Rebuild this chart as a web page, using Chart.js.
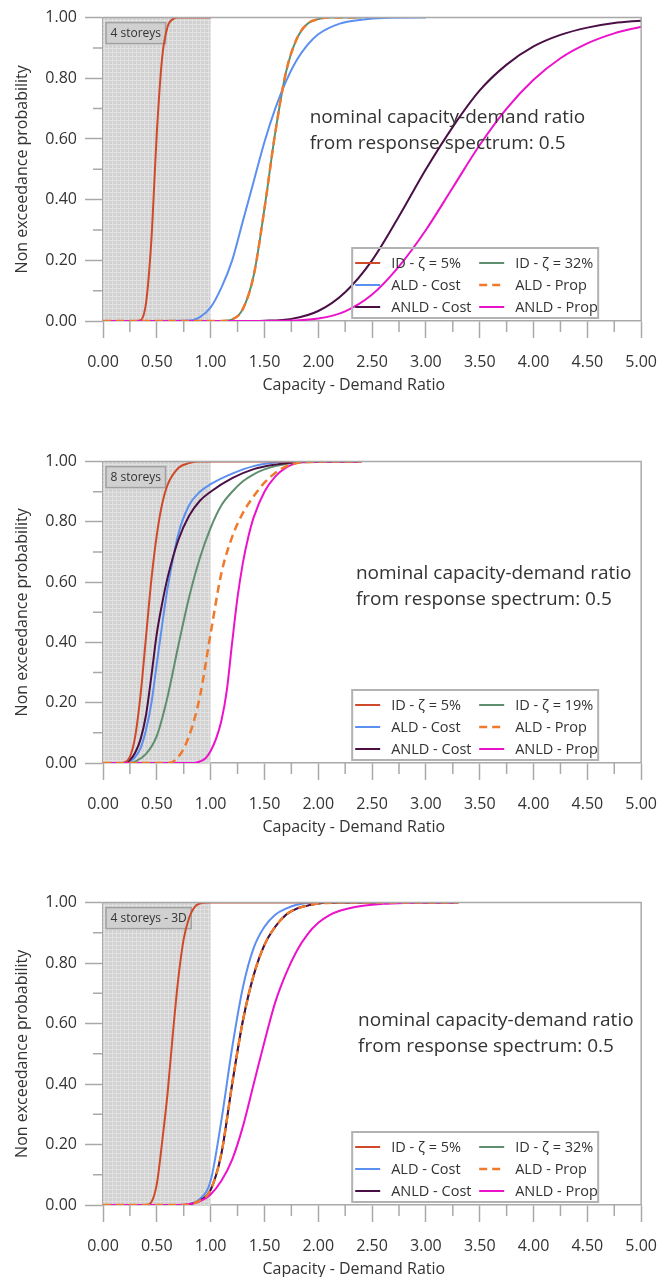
<!DOCTYPE html>
<html>
<head>
<meta charset="utf-8">
<script src="https://cdn.jsdelivr.net/npm/chart.js@4.4.1/dist/chart.umd.min.js"></script>
<style>
  body { margin: 0; background: #fff; width: 672px; height: 1277px; position: relative; overflow: hidden; }
  .panel { position: absolute; left: 0; width: 672px; }
</style>
</head>
<body>
<div class="panel" style="top:0;height:400px"><canvas id="c4s"></canvas></div>
<div class="panel" style="top:444px;height:400px"><canvas id="c8s"></canvas></div>
<div class="panel" style="top:885px;height:392px"><canvas id="c3d"></canvas></div>
<script>
// ---- 4 storeys ----
const x4_id5 = [0, 0.30, 0.35, 0.40, 0.45, 0.48, 0.50, 0.55, 0.60, 0.65, 0.70, 1.00];
const y4_id5 = [0, 0, 0.003, 0.06, 0.27, 0.48, 0.62, 0.87, 0.97, 0.995, 1, 1];
const x4_id32 = [0, 1.10, 1.20, 1.30, 1.40, 1.50, 1.60, 1.70, 1.80, 1.90, 2.00, 2.10, 2.40];
const y4_id32 = [0, 0, 0.005, 0.04, 0.15, 0.37, 0.62, 0.82, 0.93, 0.98, 0.995, 1, 1];
const x4_aldCost = [0, 0.80, 0.90, 1.00, 1.10, 1.20, 1.30, 1.40, 1.50, 1.60, 1.70, 1.80, 1.90, 2.00, 2.20, 2.40, 2.60, 3.00];
const y4_aldCost = [0, 0.002, 0.013, 0.045, 0.11, 0.20, 0.33, 0.46, 0.59, 0.70, 0.79, 0.86, 0.91, 0.945, 0.98, 0.993, 0.999, 1];
const x4_aldProp = [0, 1.10, 1.20, 1.30, 1.40, 1.50, 1.60, 1.70, 1.80, 1.90, 2.00, 2.10, 2.40];
const y4_aldProp = [0, 0, 0.005, 0.04, 0.15, 0.37, 0.62, 0.82, 0.93, 0.98, 0.995, 1, 1];
const x4_anldCost = [0, 1.25, 1.50, 1.75, 2.00, 2.25, 2.50, 2.75, 3.00, 3.25, 3.50, 3.75, 4.00, 4.25, 4.50, 4.75, 5.00];
const y4_anldCost = [0, 0, 0.001, 0.007, 0.033, 0.095, 0.20, 0.345, 0.50, 0.64, 0.76, 0.845, 0.905, 0.943, 0.967, 0.982, 0.99];
const x4_anldProp = [0, 1.50, 1.75, 2.00, 2.25, 2.50, 2.75, 3.00, 3.25, 3.50, 3.75, 4.00, 4.25, 4.50, 4.75, 5.00];
const y4_anldProp = [0, 0, 0.0013, 0.008, 0.032, 0.087, 0.18, 0.30, 0.44, 0.58, 0.70, 0.795, 0.866, 0.915, 0.948, 0.97];

// ---- 8 storeys ----
const x8_id5 = [0, 0.15, 0.20, 0.25, 0.30, 0.35, 0.40, 0.45, 0.50, 0.55, 0.60, 0.70, 0.80, 0.90, 2.40];
const y8_id5 = [0, 0, 0.002, 0.02, 0.09, 0.23, 0.42, 0.61, 0.757, 0.86, 0.923, 0.979, 0.995, 1, 1];
const x8_id19 = [0, 0.25, 0.30, 0.40, 0.50, 0.60, 0.70, 0.80, 0.90, 1.00, 1.10, 1.20, 1.30, 1.40, 1.50, 1.60, 1.80, 2.00, 2.40];
const y8_id19 = [0, 0, 0.005, 0.03, 0.09, 0.22, 0.39, 0.55, 0.68, 0.78, 0.855, 0.9, 0.935, 0.958, 0.974, 0.985, 0.997, 1, 1];
const x8_aldCost = [0, 0.20, 0.25, 0.30, 0.35, 0.40, 0.45, 0.50, 0.55, 0.60, 0.70, 0.80, 0.90, 1.00, 1.20, 1.40, 1.60, 1.80, 2.40];
const y8_aldCost = [0, 0, 0.005, 0.02, 0.05, 0.11, 0.20, 0.33, 0.46, 0.58, 0.76, 0.855, 0.90, 0.925, 0.96, 0.985, 0.997, 1, 1];
const x8_aldProp = [0, 0.60, 0.70, 0.80, 0.90, 1.00, 1.10, 1.20, 1.30, 1.40, 1.50, 1.60, 1.70, 1.80, 2.00, 2.40];
const y8_aldProp = [0, 0, 0.02, 0.09, 0.22, 0.43, 0.63, 0.75, 0.83, 0.885, 0.93, 0.962, 0.984, 0.995, 1, 1];
const x8_anldCost = [0, 0.20, 0.25, 0.30, 0.35, 0.40, 0.45, 0.50, 0.55, 0.60, 0.70, 0.80, 0.90, 1.00, 1.20, 1.40, 1.60, 1.80, 2.40];
const y8_anldCost = [0, 0, 0.01, 0.035, 0.08, 0.16, 0.29, 0.43, 0.53, 0.615, 0.74, 0.82, 0.87, 0.90, 0.945, 0.975, 0.99, 0.998, 1];
const x8_anldProp = [0, 0.85, 0.90, 0.95, 1.00, 1.05, 1.10, 1.15, 1.20, 1.25, 1.30, 1.35, 1.40, 1.50, 1.60, 1.70, 1.80, 1.90, 2.40];
const y8_anldProp = [0, 0, 0.005, 0.015, 0.04, 0.08, 0.14, 0.24, 0.40, 0.55, 0.665, 0.75, 0.815, 0.90, 0.95, 0.98, 0.995, 1, 1];

// ---- 4 storeys - 3D ----
const x3_id5 = [0, 0.40, 0.45, 0.50, 0.55, 0.60, 0.65, 0.70, 0.75, 0.80, 0.85, 0.90, 1.00, 3.30];
const y3_id5 = [0, 0, 0.01, 0.07, 0.21, 0.37, 0.57, 0.75, 0.88, 0.95, 0.985, 0.997, 1, 1];
const x3_id32 = [0, 0.75, 0.80, 0.90, 1.00, 1.10, 1.20, 1.30, 1.40, 1.50, 1.60, 1.70, 1.80, 1.90, 2.00, 2.20, 3.30];
const y3_id32 = [0, 0, 0.002, 0.015, 0.05, 0.17, 0.40, 0.61, 0.76, 0.86, 0.92, 0.96, 0.98, 0.99, 0.997, 1, 1];
const x3_aldCost = [0, 0.75, 0.80, 0.90, 1.00, 1.10, 1.20, 1.30, 1.40, 1.50, 1.60, 1.70, 1.80, 2.00, 3.30];
const y3_aldCost = [0, 0, 0.003, 0.02, 0.08, 0.28, 0.52, 0.72, 0.85, 0.92, 0.96, 0.98, 0.993, 1, 1];
const x3_aldProp = [0, 0.75, 0.80, 0.90, 1.00, 1.10, 1.20, 1.30, 1.40, 1.50, 1.60, 1.70, 1.80, 1.90, 2.00, 2.20, 3.30];
const y3_aldProp = [0, 0, 0.002, 0.015, 0.05, 0.17, 0.40, 0.61, 0.76, 0.86, 0.92, 0.96, 0.98, 0.99, 0.997, 1, 1];
const x3_anldCost = [0, 0.75, 0.80, 0.90, 1.00, 1.10, 1.20, 1.30, 1.40, 1.50, 1.60, 1.70, 1.80, 1.90, 2.00, 2.20, 3.30];
const y3_anldCost = [0, 0, 0.002, 0.015, 0.05, 0.17, 0.40, 0.61, 0.76, 0.86, 0.92, 0.96, 0.98, 0.99, 0.997, 1, 1];
const x3_anldProp = [0, 0.70, 0.80, 0.90, 1.00, 1.10, 1.20, 1.30, 1.40, 1.50, 1.60, 1.70, 1.80, 1.90, 2.00, 2.10, 2.20, 2.40, 2.60, 2.80, 3.00, 3.30];
const y3_anldProp = [0, 0, 0.003, 0.012, 0.035, 0.08, 0.15, 0.26, 0.40, 0.54, 0.67, 0.765, 0.84, 0.895, 0.933, 0.958, 0.973, 0.989, 0.996, 0.999, 1, 1];

const labels32 = ['ID - ζ = 5%', 'ID - ζ = 32%', 'ALD - Cost', 'ALD - Prop', 'ANLD - Cost', 'ANLD - Prop'];
const labels19 = ['ID - ζ = 5%', 'ID - ζ = 19%', 'ALD - Cost', 'ALD - Prop', 'ANLD - Cost', 'ANLD - Prop'];
const xTicks = [0, 5, 0.5];   // min, max, step
const yTicks = [0, 1, 0.2];
const xTitle = 'Capacity - Demand Ratio';
const yTitle = 'Non exceedance probability';
const noteLines = ['nominal capacity-demand ratio', 'from response spectrum: 0.5'];

const colors = ['#cf4a2a', '#5e8f6e', '#5b8ff0', '#f07a2c', '#4a1046', '#ec12cc'];
const drawOrder = [2, 5, 4, 0, 3, 1];   // lower = drawn on top
const AXIS = '#a9a9a9';
const INK = '#333333';
const FONT = '"Open Sans", sans-serif';

Chart.defaults.font.family = FONT;

function series(label, xs, ys, i) {
  return {
    label: label,
    data: xs.map((v, k) => ({ x: v, y: ys[k] })),
    borderColor: colors[i],
    borderWidth: i == 3 ? 2.5 : 2,
    borderDash: i == 3 ? [8, 5] : [],
    pointRadius: 0,
    fill: false,
    cubicInterpolationMode: 'monotone',
    order: drawOrder[i]
  };
}

function shadePattern(ctx) {
  const c = document.createElement('canvas');
  c.width = 4; c.height = 4;
  const g = c.getContext('2d');
  g.fillStyle = '#d1d1d1';
  g.fillRect(0, 0, 4, 4);
  g.fillStyle = '#e1e1e1';
  g.fillRect(0, 0, 4, 1);
  g.fillRect(0, 0, 1, 4);
  return ctx.createPattern(c, 'repeat');
}

// shaded band, tag box, frame, minor ticks, x title, note and legend
const decor = {
  id: 'decor',
  beforeDatasetsDraw(chart, args, o) {
    const ctx = chart.ctx, a = chart.chartArea, xs = chart.scales.x;
    const x0 = xs.getPixelForValue(0), x1 = xs.getPixelForValue(1);
    ctx.save();
    ctx.fillStyle = shadePattern(ctx);
    ctx.fillRect(x0, a.top, x1 - x0, a.bottom - a.top);

    ctx.font = '12px ' + FONT;
    const tw = ctx.measureText(o.tag).width;
    const bx = a.left + 3, by = a.top + 5, bw = tw + 9, bh = 21;
    ctx.fillStyle = '#d0d0d0';
    ctx.fillRect(bx, by, bw, bh);
    ctx.strokeStyle = '#a0a0a0';
    ctx.lineWidth = 1.5;
    ctx.strokeRect(bx, by, bw, bh);
    ctx.fillStyle = INK;
    ctx.textBaseline = 'middle';
    ctx.fillText(o.tag, bx + 4.5, by + bh / 2 + 0.5);
    ctx.restore();
  },
  afterDraw(chart, args, o) {
    const ctx = chart.ctx, a = chart.chartArea, xs = chart.scales.x, ys = chart.scales.y;
    ctx.save();
    ctx.strokeStyle = AXIS;
    ctx.lineWidth = 1.5;
    ctx.beginPath();
    ctx.moveTo(a.left, a.top); ctx.lineTo(a.right, a.top); ctx.lineTo(a.right, a.bottom);
    for (let k = 0; k < 10; k++) {
      const px = xs.getPixelForValue(0.25 + k * 0.5);
      ctx.moveTo(px, a.bottom); ctx.lineTo(px, a.bottom + 11);
    }
    for (let k = 0; k < 5; k++) {
      const py = ys.getPixelForValue(0.1 + k * 0.2);
      ctx.moveTo(a.left - 10, py); ctx.lineTo(a.left, py);
    }
    ctx.stroke();

    ctx.fillStyle = INK;
    ctx.textBaseline = 'middle';

    // x axis title, sits a little left of the plot centre
    ctx.font = '16px ' + FONT;
    ctx.textAlign = 'center';
    ctx.fillText(xTitle, xs.getPixelForValue(2.33), a.bottom + 64);
    ctx.textAlign = 'left';

    // note text
    ctx.font = '19px ' + FONT;
    const nx = xs.getPixelForValue(o.note[0]), ny = ys.getPixelForValue(o.note[1]);
    noteLines.forEach((t, k) => ctx.fillText(t, nx, ny + k * 26));

    // legend, two columns
    const lw = 246, lh = 70;
    const lx = a.right - 43 - lw, ly = a.bottom - 3 - lh;
    ctx.strokeStyle = '#b2b2b2';
    ctx.lineWidth = 2;
    ctx.strokeRect(lx, ly, lw, lh);
    ctx.font = '14.5px ' + FONT;
    chart.data.datasets.forEach((d, i) => {
      const col = i % 2, row = Math.floor(i / 2);
      const sx = lx + 3 + col * 124, sy = ly + 15 + row * 22;
      ctx.strokeStyle = d.borderColor;
      ctx.lineWidth = d.borderWidth;
      ctx.setLineDash(d.borderDash);
      ctx.beginPath();
      ctx.moveTo(sx, sy); ctx.lineTo(sx + 25, sy);
      ctx.stroke();
      ctx.setLineDash([]);
      ctx.fillStyle = INK;
      ctx.fillText(d.label, sx + 36, sy + 1);
    });
    ctx.restore();
  }
};

function makeChart(id, datasets, tag, note, xHeight) {
  return new Chart(document.getElementById(id), {
    type: 'line',
    data: { datasets: datasets },
    plugins: [decor],
    options: {
      animation: false,
      responsive: true,
      maintainAspectRatio: false,
      layout: { padding: { top: 17, right: 30, left: 0, bottom: 0 } },
      plugins: {
        legend: { display: false },
        tooltip: { enabled: false },
        decor: { tag: tag, note: note }
      },
      scales: {
        x: {
          type: 'linear', min: xTicks[0], max: xTicks[1],
          ticks: { stepSize: xTicks[2], padding: 15, color: INK, font: { size: 16 }, maxRotation: 0, autoSkip: false,
                   callback: v => v.toFixed(2) },
          grid: { drawOnChartArea: false, drawTicks: true, tickLength: 17, tickColor: AXIS, tickWidth: 1.5 },
          border: { color: AXIS, width: 1.5 },
          afterFit: s => { s.height = xHeight; }
        },
        y: {
          min: yTicks[0], max: yTicks[1],
          ticks: { stepSize: yTicks[2], padding: 8, color: INK, font: { size: 16 },
                   callback: v => v.toFixed(2) },
          grid: { drawOnChartArea: false, drawTicks: true, tickLength: 18, tickColor: AXIS, tickWidth: 1.5 },
          border: { color: AXIS, width: 1.5 },
          title: { display: true, text: yTitle, color: INK, font: { size: 16 },
                   padding: { top: 13, bottom: 0 } },
          afterFit: s => { s.width = 103; }
        }
      }
    }
  });
}

makeChart('c4s', [
  series(labels32[0], x4_id5, y4_id5, 0),
  series(labels32[1], x4_id32, y4_id32, 1),
  series(labels32[2], x4_aldCost, y4_aldCost, 2),
  series(labels32[3], x4_aldProp, y4_aldProp, 3),
  series(labels32[4], x4_anldCost, y4_anldCost, 4),
  series(labels32[5], x4_anldProp, y4_anldProp, 5)
], '4 storeys', [1.92, 0.67], 79);

makeChart('c8s', [
  series(labels19[0], x8_id5, y8_id5, 0),
  series(labels19[1], x8_id19, y8_id19, 1),
  series(labels19[2], x8_aldCost, y8_aldCost, 2),
  series(labels19[3], x8_aldProp, y8_aldProp, 3),
  series(labels19[4], x8_anldCost, y8_anldCost, 4),
  series(labels19[5], x8_anldProp, y8_anldProp, 5)
], '8 storeys', [2.35, 0.63], 81);

makeChart('c3d', [
  series(labels32[0], x3_id5, y3_id5, 0),
  series(labels32[1], x3_id32, y3_id32, 1),
  series(labels32[2], x3_aldCost, y3_aldCost, 2),
  series(labels32[3], x3_aldProp, y3_aldProp, 3),
  series(labels32[4], x3_anldCost, y3_anldCost, 4),
  series(labels32[5], x3_anldProp, y3_anldProp, 5)
], '4 storeys - 3D', [2.37, 0.61], 72);
</script>
</body>
</html>
